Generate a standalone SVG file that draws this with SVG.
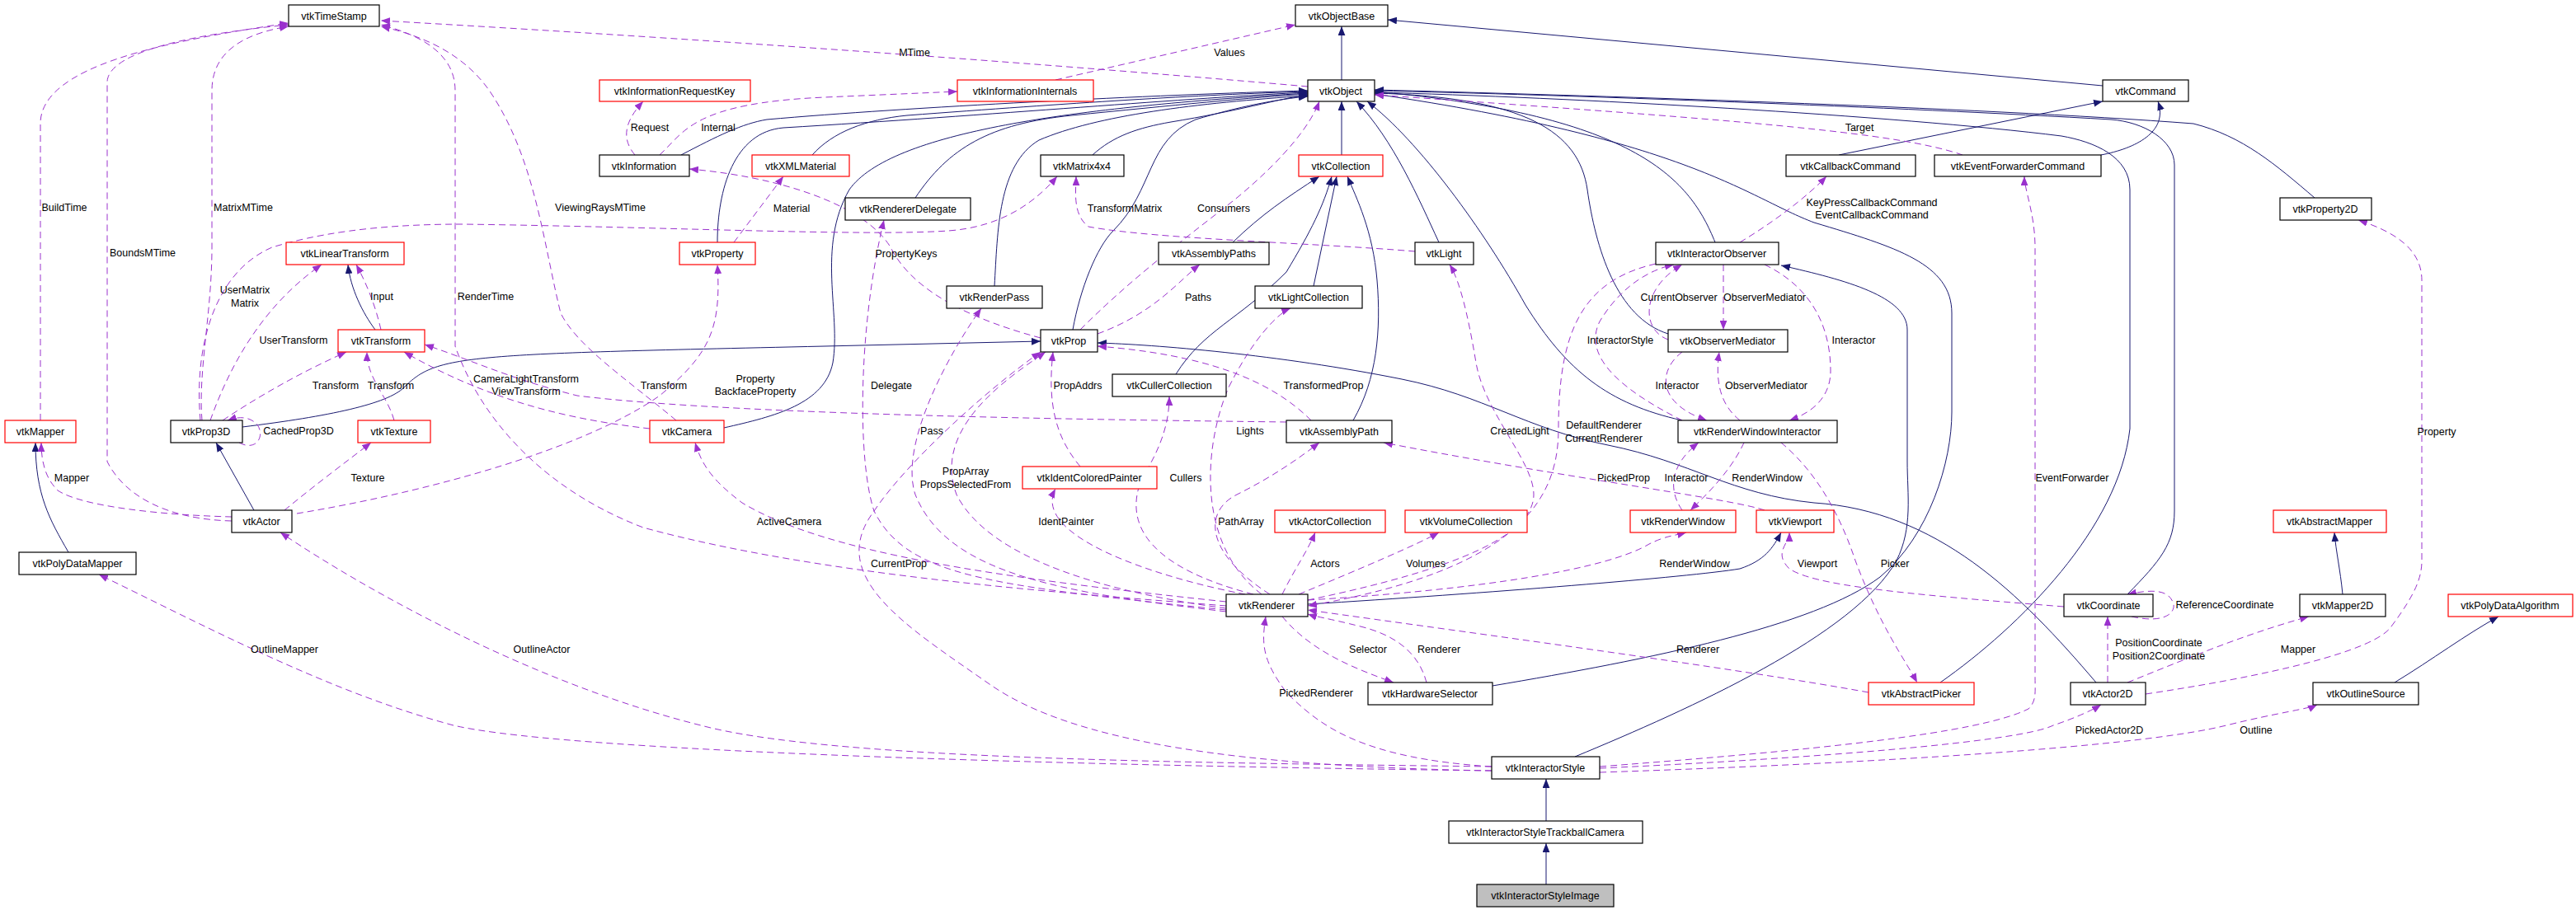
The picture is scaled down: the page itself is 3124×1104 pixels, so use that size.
<svg xmlns="http://www.w3.org/2000/svg" width="3124" height="1104" viewBox="0 0 3124 1104">
<style>
text{font-family:"Liberation Sans",Arial,sans-serif;font-size:12.5px;fill:#000}
.n rect{fill:#fff;stroke:#000;stroke-width:1.2}
.r rect{stroke:#f00}
.g rect{fill:#bfbfbf}
.n text{text-anchor:middle}
.i{fill:none;stroke:#191970;stroke-width:1;marker-end:url(#ai)}
.u{fill:none;stroke:#9a32cd;stroke-width:1;stroke-dasharray:8,5;marker-end:url(#au)}
.l{text-anchor:middle}
</style>
<defs>
<marker id="ai" viewBox="0 0 10 8" refX="10" refY="4" markerWidth="11" markerHeight="9" markerUnits="userSpaceOnUse" orient="auto"><path d="M0,0L10,4L0,8z" fill="#191970"/></marker>
<marker id="au" viewBox="0 0 10 8" refX="10" refY="4" markerWidth="11" markerHeight="9" markerUnits="userSpaceOnUse" orient="auto"><path d="M0,0L10,4L0,8z" fill="#9a32cd"/></marker>
</defs>
<rect width="3124" height="1104" fill="#fff"/>
<g id="edges">
<path class="i" d="M1627,97L1627,32"/>
<path class="i" d="M2550,104L1683,24"/>
<path class="i" d="M826,188C870,165 900,150 930,145C1100,130 1400,115 1586,110"/>
<path class="i" d="M985,188C1010,160 1050,145 1100,140C1300,125 1450,115 1586,111"/>
<path class="i" d="M870,294C870,230 890,160 950,155C1200,140 1450,118 1586,112"/>
<path class="i" d="M878,519C940,505 1000,490 1010,440C1020,380 990,300 1030,230C1080,160 1300,130 1586,113"/>
<path class="i" d="M1110,240C1150,180 1200,150 1300,140C1420,128 1520,118 1586,114"/>
<path class="i" d="M1325,188C1350,165 1380,155 1420,148C1500,135 1550,120 1586,115"/>
<path class="i" d="M1206,347C1210,280 1210,200 1260,170C1330,140 1450,125 1586,116"/>
<path class="i" d="M1301,400C1310,350 1330,300 1350,280C1400,230 1390,170 1450,145C1500,130 1550,120 1586,117"/>
<path class="i" d="M1627,188L1627,123"/>
<path class="i" d="M1745,294C1720,240 1690,170 1645,123"/>
<path class="i" d="M2040,510C1950,490 1900,450 1850,370C1800,280 1720,170 1658,123"/>
<path class="i" d="M2023,405C1960,385 1935,300 1925,230C1915,160 1850,118 1667,113"/>
<path class="i" d="M2080,294C2050,220 1990,140 1667,111"/>
<path class="i" d="M2230,188L2550,123"/>
<path class="i" d="M2548,188C2590,180 2630,160 2617,123"/>
<path class="i" d="M2807,240C2760,200 2720,165 2660,150C2400,130 1900,115 1667,109"/>
<path class="i" d="M2580,721C2620,680 2637,660 2637,620L2637,200C2637,170 2600,148 2560,145C2300,130 1900,115 1667,110"/>
<path class="i" d="M2353,828C2450,760 2570,640 2583,520L2583,230C2583,190 2540,172 2500,165C2300,140 1900,118 1667,112"/>
<path class="i" d="M1810,832C2000,800 2200,760 2280,700C2340,650 2367,560 2367,500L2367,380C2367,320 2300,300 2200,270C2120,240 2050,170 1667,114"/>
<path class="i" d="M1910,918C2050,860 2250,770 2300,680C2320,640 2313,600 2313,560L2313,400C2313,360 2240,340 2160,322"/>
<path class="i" d="M2542,828C2450,720 2350,620 2200,610C2100,600 2050,560 1950,540C1850,520 1800,480 1700,460C1550,430 1400,418 1331,416"/>
<path class="i" d="M1586,733C1800,720 2050,700 2110,690C2140,680 2150,665 2160,646"/>
<path class="i" d="M455,400C440,380 425,350 422,321"/>
<path class="i" d="M294,518C400,505 470,490 490,470C530,430 560,430 1000,420L1262,414"/>
<path class="i" d="M308,619L262,537"/>
<path class="i" d="M83,670C60,630 43,600 43,537"/>
<path class="i" d="M1495,294C1530,260 1560,240 1600,214"/>
<path class="i" d="M1593,347L1621,214"/>
<path class="i" d="M1426,454C1460,400 1500,390 1560,330C1590,280 1605,250 1615,214"/>
<path class="i" d="M1641,510C1670,460 1675,400 1670,340C1665,280 1645,240 1634,214"/>
<path class="i" d="M1875,996L1875,945"/>
<path class="i" d="M1875,1073L1875,1023"/>
<path class="i" d="M2841,721C2838,690 2833,670 2831,646"/>
<path class="i" d="M2904,828C2950,800 2990,770 3030,748"/>

<path class="u" d="M49,510L49,150C49,80 200,50 350,28"/>
<path class="u" d="M281,632C200,630 150,600 130,560L130,100C130,60 250,40 350,30"/>
<path class="u" d="M245,510C240,450 257,380 257,300L257,110C257,60 300,40 350,32"/>
<path class="u" d="M1487,735C1300,720 1000,700 780,640C650,590 580,500 552,420L552,110C552,60 500,40 462,30"/>
<path class="u" d="M820,510C760,460 700,420 680,380C660,300 650,200 600,120C570,70 520,45 462,32"/>
<path class="u" d="M1586,105C1300,80 900,50 462,25"/>
<path class="u" d="M1280,97L1571,30"/>
<path class="u" d="M770,188C755,170 755,150 780,123"/>
<path class="u" d="M800,188C830,160 840,125 1000,118L1161,111"/>
<path class="u" d="M890,294L950,214"/>
<path class="u" d="M1262,410C1150,380 1100,340 1080,300C1050,250 950,215 836,205"/>
<path class="u" d="M243,510C235,420 260,330 330,300C380,285 450,272 560,272C800,275 1050,287 1150,280C1220,275 1260,240 1282,214"/>
<path class="u" d="M255,510C280,440 320,370 390,321"/>
<path class="u" d="M462,400C455,370 445,345 432,321"/>
<path class="u" d="M270,510C330,470 380,445 420,427"/>
<path class="u" d="M478,510C470,480 445,460 445,427"/>
<path class="u" d="M788,520C700,510 600,490 490,427"/>
<path class="u" d="M1560,512C1400,510 900,505 700,480C620,460 580,440 515,418"/>
<path class="u" d="M345,619C380,590 420,560 450,537"/>
<path class="u" d="M281,627C200,625 100,615 70,595C55,580 50,560 50,537"/>
<path class="u" d="M360,623C500,600 700,550 800,480C860,430 875,400 870,321"/>
<path class="u" d="M290,537C310,548 322,530 312,515C302,505 290,505 276,510"/>
<path class="u" d="M1487,730C1200,700 1000,670 900,610C860,580 850,560 843,537"/>
<path class="u" d="M1809,935C1400,930 700,915 550,880C400,840 250,760 120,697"/>
<path class="u" d="M1809,930C1400,925 1000,920 850,880C650,830 450,720 340,646"/>
<path class="u" d="M1487,740C1200,710 1100,700 1060,620C1040,560 1040,400 1072,267"/>
<path class="u" d="M1487,742C1300,720 1150,700 1110,600C1090,540 1150,430 1190,374"/>
<path class="u" d="M1487,738C1350,720 1200,680 1160,600C1130,520 1220,460 1268,427"/>
<path class="u" d="M1310,566C1280,530 1270,490 1277,427"/>
<path class="u" d="M1510,721C1400,700 1250,650 1280,593"/>
<path class="u" d="M1520,721C1400,690 1360,640 1385,580C1410,540 1418,510 1418,481"/>
<path class="u" d="M1530,721C1450,660 1460,540 1490,470C1520,410 1550,380 1565,374"/>
<path class="u" d="M1540,721C1460,670 1460,620 1500,600C1540,580 1570,560 1600,537"/>
<path class="u" d="M1555,721C1570,690 1585,670 1595,646"/>
<path class="u" d="M1575,721C1650,690 1720,660 1745,646"/>
<path class="u" d="M1586,728C1720,700 1860,660 1860,600C1860,560 1800,500 1790,440C1780,380 1770,340 1758,321"/>
<path class="u" d="M1809,935C1500,930 1300,900 1200,830C1100,760 1000,700 1060,620C1100,560 1200,470 1262,427"/>
<path class="u" d="M1310,400C1380,330 1450,280 1500,240C1560,190 1590,150 1600,123"/>
<path class="u" d="M1716,305C1600,295 1400,290 1320,275C1300,260 1305,230 1305,214"/>
<path class="u" d="M1331,405C1400,380 1430,340 1455,321"/>
<path class="u" d="M1590,510C1540,460 1460,430 1331,420"/>
<path class="u" d="M2008,320C1920,340 1890,400 1890,520C1890,600 1850,690 1586,735"/>
<path class="u" d="M2040,510C1960,470 1920,430 1940,390C1970,340 2010,325 2030,321"/>
<path class="u" d="M2140,321C2200,350 2220,400 2220,450C2220,480 2200,500 2170,510"/>
<path class="u" d="M2110,294C2150,270 2190,240 2215,214"/>
<path class="u" d="M2090,321L2090,400"/>
<path class="u" d="M2023,412C1990,400 1990,350 2040,321"/>
<path class="u" d="M2040,427C2010,450 2010,490 2070,510"/>
<path class="u" d="M2110,510C2085,490 2080,460 2085,427"/>
<path class="u" d="M2115,537C2100,570 2070,600 2050,619"/>
<path class="u" d="M2040,619C2020,590 2030,560 2060,537"/>
<path class="u" d="M2140,619C2100,605 1900,580 1678,537"/>
<path class="u" d="M2160,537C2200,570 2230,620 2250,680C2280,760 2310,800 2325,828"/>
<path class="u" d="M1586,728C1800,715 1950,690 2000,660C2020,650 2030,650 2045,646"/>
<path class="u" d="M2503,736C2300,720 2200,710 2170,690C2150,670 2170,660 2170,646"/>
<path class="u" d="M2585,748C2630,758 2640,740 2635,730C2628,715 2610,715 2580,721"/>
<path class="u" d="M2556,828L2556,748"/>
<path class="u" d="M2580,828C2650,800 2720,770 2800,748"/>
<path class="u" d="M2602,842C2750,820 2880,790 2900,760C2930,720 2937,700 2937,680L2937,340C2937,300 2900,280 2860,267"/>
<path class="u" d="M2266,840C2100,810 1800,770 1586,740"/>
<path class="u" d="M1730,828C1720,790 1690,770 1650,760C1610,750 1595,748 1586,745"/>
<path class="u" d="M1555,748C1590,790 1640,810 1690,828"/>
<path class="u" d="M1809,930C1650,920 1600,880 1560,840C1530,800 1530,780 1535,748"/>
<path class="u" d="M1940,930C2200,910 2400,890 2460,860C2470,850 2468,840 2468,820L2468,300C2468,260 2455,230 2455,214"/>
<path class="u" d="M1940,932C2200,920 2450,900 2490,880C2520,870 2540,860 2548,855"/>
<path class="u" d="M1940,937C2300,925 2600,905 2700,880C2760,865 2800,860 2810,855"/>
<path class="u" d="M2380,188C2300,160 2100,145 1667,115"/>

<text x="78" y="256" class="l">BuildTime</text>
<text x="295" y="256" class="l">MatrixMTime</text>
<text x="728" y="256" class="l">ViewingRaysMTime</text>
<text x="173" y="311" class="l">BoundsMTime</text>
<text x="297" y="356" class="l">UserMatrix</text>
<text x="297" y="372" class="l">Matrix</text>
<text x="463" y="364" class="l">Input</text>
<text x="589" y="364" class="l">RenderTime</text>
<text x="356" y="417" class="l">UserTransform</text>
<text x="407" y="472" class="l">Transform</text>
<text x="474" y="472" class="l">Transform</text>
<text x="638" y="464" class="l">CameraLightTransform</text>
<text x="638" y="479" class="l">ViewTransform</text>
<text x="805" y="472" class="l">Transform</text>
<text x="916" y="464" class="l">Property</text>
<text x="916" y="479" class="l">BackfaceProperty</text>
<text x="362" y="527" class="l">CachedProp3D</text>
<text x="87" y="584" class="l">Mapper</text>
<text x="446" y="584" class="l">Texture</text>
<text x="957" y="637" class="l">ActiveCamera</text>
<text x="345" y="792" class="l">OutlineMapper</text>
<text x="657" y="792" class="l">OutlineActor</text>
<text x="788" y="159" class="l">Request</text>
<text x="871" y="159" class="l">Internal</text>
<text x="960" y="257" class="l">Material</text>
<text x="1109" y="68" class="l">MTime</text>
<text x="1491" y="68" class="l">Values</text>
<text x="1364" y="257" class="l">TransformMatrix</text>
<text x="1484" y="257" class="l">Consumers</text>
<text x="1099" y="312" class="l">PropertyKeys</text>
<text x="1453" y="365" class="l">Paths</text>
<text x="1081" y="472" class="l">Delegate</text>
<text x="1307" y="472" class="l">PropAddrs</text>
<text x="1605" y="472" class="l">TransformedProp</text>
<text x="1130" y="527" class="l">Pass</text>
<text x="1516" y="527" class="l">Lights</text>
<text x="1843" y="527" class="l">CreatedLight</text>
<text x="1945" y="520" class="l">DefaultRenderer</text>
<text x="1945" y="536" class="l">CurrentRenderer</text>
<text x="1171" y="576" class="l">PropArray</text>
<text x="1171" y="592" class="l">PropsSelectedFrom</text>
<text x="1438" y="584" class="l">Cullers</text>
<text x="1969" y="584" class="l">PickedProp</text>
<text x="2045" y="584" class="l">Interactor</text>
<text x="1293" y="637" class="l">IdentPainter</text>
<text x="1505" y="637" class="l">PathArray</text>
<text x="1090" y="688" class="l">CurrentProp</text>
<text x="1607" y="688" class="l">Actors</text>
<text x="1729" y="688" class="l">Volumes</text>
<text x="2055" y="688" class="l">RenderWindow</text>
<text x="1659" y="792" class="l">Selector</text>
<text x="1745" y="792" class="l">Renderer</text>
<text x="2059" y="792" class="l">Renderer</text>
<text x="1596" y="845" class="l">PickedRenderer</text>
<text x="1965" y="417" class="l">InteractorStyle</text>
<text x="2036" y="365" class="l">CurrentObserver</text>
<text x="2034" y="472" class="l">Interactor</text>
<text x="2255" y="159" class="l">Target</text>
<text x="2270" y="250" class="l">KeyPressCallbackCommand</text>
<text x="2270" y="265" class="l">EventCallbackCommand</text>
<text x="2140" y="365" class="l">ObserverMediator</text>
<text x="2248" y="417" class="l">Interactor</text>
<text x="2142" y="472" class="l">ObserverMediator</text>
<text x="2143" y="584" class="l">RenderWindow</text>
<text x="2955" y="528" class="l">Property</text>
<text x="2513" y="584" class="l">EventForwarder</text>
<text x="2204" y="688" class="l">Viewport</text>
<text x="2298" y="688" class="l">Picker</text>
<text x="2698" y="738" class="l">ReferenceCoordinate</text>
<text x="2618" y="784" class="l">PositionCoordinate</text>
<text x="2618" y="800" class="l">Position2Coordinate</text>
<text x="2787" y="792" class="l">Mapper</text>
<text x="2558" y="890" class="l">PickedActor2D</text>
<text x="2736" y="890" class="l">Outline</text>
</g>

<g id="vtkTimeStamp" class="n"><rect x="350" y="6" width="110" height="26"/><text x="405" y="24">vtkTimeStamp</text></g>
<g id="vtkObjectBase" class="n"><rect x="1571" y="6" width="112" height="26"/><text x="1627" y="24">vtkObjectBase</text></g>
<g id="vtkInformationRequestKey" class="n r"><rect x="727" y="97" width="183" height="26"/><text x="818" y="115">vtkInformationRequestKey</text></g>
<g id="vtkInformationInternals" class="n r"><rect x="1161" y="97" width="165" height="26"/><text x="1243" y="115">vtkInformationInternals</text></g>
<g id="vtkObject" class="n"><rect x="1586" y="97" width="81" height="26"/><text x="1626" y="115">vtkObject</text></g>
<g id="vtkCommand" class="n"><rect x="2550" y="97" width="104" height="26"/><text x="2602" y="115">vtkCommand</text></g>
<g id="vtkInformation" class="n"><rect x="727" y="188" width="109" height="26"/><text x="781" y="206">vtkInformation</text></g>
<g id="vtkXMLMaterial" class="n r"><rect x="912" y="188" width="118" height="26"/><text x="971" y="206">vtkXMLMaterial</text></g>
<g id="vtkMatrix4x4" class="n"><rect x="1262" y="188" width="101" height="26"/><text x="1312" y="206">vtkMatrix4x4</text></g>
<g id="vtkCollection" class="n r"><rect x="1575" y="188" width="102" height="26"/><text x="1626" y="206">vtkCollection</text></g>
<g id="vtkCallbackCommand" class="n"><rect x="2166" y="188" width="157" height="26"/><text x="2244" y="206">vtkCallbackCommand</text></g>
<g id="vtkEventForwarderCommand" class="n"><rect x="2346" y="188" width="202" height="26"/><text x="2447" y="206">vtkEventForwarderCommand</text></g>
<g id="vtkRendererDelegate" class="n"><rect x="1025" y="240" width="152" height="27"/><text x="1101" y="258">vtkRendererDelegate</text></g>
<g id="vtkProperty2D" class="n"><rect x="2765" y="240" width="111" height="27"/><text x="2820" y="258">vtkProperty2D</text></g>
<g id="vtkLinearTransform" class="n r"><rect x="347" y="294" width="143" height="27"/><text x="418" y="312">vtkLinearTransform</text></g>
<g id="vtkProperty" class="n r"><rect x="824" y="294" width="92" height="27"/><text x="870" y="312">vtkProperty</text></g>
<g id="vtkAssemblyPaths" class="n"><rect x="1405" y="294" width="134" height="27"/><text x="1472" y="312">vtkAssemblyPaths</text></g>
<g id="vtkLight" class="n"><rect x="1716" y="294" width="71" height="27"/><text x="1751" y="312">vtkLight</text></g>
<g id="vtkInteractorObserver" class="n"><rect x="2008" y="294" width="149" height="27"/><text x="2082" y="312">vtkInteractorObserver</text></g>
<g id="vtkRenderPass" class="n"><rect x="1148" y="347" width="116" height="27"/><text x="1206" y="365">vtkRenderPass</text></g>
<g id="vtkLightCollection" class="n"><rect x="1522" y="347" width="130" height="27"/><text x="1587" y="365">vtkLightCollection</text></g>
<g id="vtkTransform" class="n r"><rect x="410" y="400" width="105" height="27"/><text x="462" y="418">vtkTransform</text></g>
<g id="vtkProp" class="n"><rect x="1262" y="400" width="69" height="27"/><text x="1296" y="418">vtkProp</text></g>
<g id="vtkObserverMediator" class="n"><rect x="2023" y="400" width="145" height="27"/><text x="2095" y="418">vtkObserverMediator</text></g>
<g id="vtkCullerCollection" class="n"><rect x="1349" y="454" width="138" height="27"/><text x="1418" y="472">vtkCullerCollection</text></g>
<g id="vtkMapper" class="n r"><rect x="6" y="510" width="86" height="27"/><text x="49" y="528">vtkMapper</text></g>
<g id="vtkProp3D" class="n"><rect x="207" y="510" width="87" height="27"/><text x="250" y="528">vtkProp3D</text></g>
<g id="vtkTexture" class="n r"><rect x="434" y="510" width="88" height="27"/><text x="478" y="528">vtkTexture</text></g>
<g id="vtkCamera" class="n r"><rect x="788" y="510" width="90" height="27"/><text x="833" y="528">vtkCamera</text></g>
<g id="vtkAssemblyPath" class="n"><rect x="1560" y="510" width="128" height="27"/><text x="1624" y="528">vtkAssemblyPath</text></g>
<g id="vtkRenderWindowInteractor" class="n"><rect x="2035" y="510" width="193" height="27"/><text x="2131" y="528">vtkRenderWindowInteractor</text></g>
<g id="vtkIdentColoredPainter" class="n r"><rect x="1240" y="566" width="163" height="27"/><text x="1321" y="584">vtkIdentColoredPainter</text></g>
<g id="vtkActor" class="n"><rect x="281" y="619" width="73" height="27"/><text x="317" y="637">vtkActor</text></g>
<g id="vtkActorCollection" class="n r"><rect x="1546" y="619" width="134" height="27"/><text x="1613" y="637">vtkActorCollection</text></g>
<g id="vtkVolumeCollection" class="n r"><rect x="1704" y="619" width="148" height="27"/><text x="1778" y="637">vtkVolumeCollection</text></g>
<g id="vtkRenderWindow" class="n r"><rect x="1977" y="619" width="128" height="27"/><text x="2041" y="637">vtkRenderWindow</text></g>
<g id="vtkViewport" class="n r"><rect x="2130" y="619" width="94" height="27"/><text x="2177" y="637">vtkViewport</text></g>
<g id="vtkAbstractMapper" class="n r"><rect x="2757" y="619" width="137" height="27"/><text x="2825" y="637">vtkAbstractMapper</text></g>
<g id="vtkPolyDataMapper" class="n"><rect x="23" y="670" width="142" height="27"/><text x="94" y="688">vtkPolyDataMapper</text></g>
<g id="vtkRenderer" class="n"><rect x="1487" y="721" width="99" height="27"/><text x="1536" y="739">vtkRenderer</text></g>
<g id="vtkCoordinate" class="n"><rect x="2503" y="721" width="108" height="27"/><text x="2557" y="739">vtkCoordinate</text></g>
<g id="vtkMapper2D" class="n"><rect x="2789" y="721" width="104" height="27"/><text x="2841" y="739">vtkMapper2D</text></g>
<g id="vtkPolyDataAlgorithm" class="n r"><rect x="2969" y="721" width="151" height="27"/><text x="3044" y="739">vtkPolyDataAlgorithm</text></g>
<g id="vtkHardwareSelector" class="n"><rect x="1659" y="828" width="151" height="27"/><text x="1734" y="846">vtkHardwareSelector</text></g>
<g id="vtkAbstractPicker" class="n r"><rect x="2266" y="828" width="128" height="27"/><text x="2330" y="846">vtkAbstractPicker</text></g>
<g id="vtkActor2D" class="n"><rect x="2511" y="828" width="91" height="27"/><text x="2556" y="846">vtkActor2D</text></g>
<g id="vtkOutlineSource" class="n"><rect x="2805" y="828" width="128" height="27"/><text x="2869" y="846">vtkOutlineSource</text></g>
<g id="vtkInteractorStyle" class="n"><rect x="1809" y="918" width="131" height="27"/><text x="1874" y="936">vtkInteractorStyle</text></g>
<g id="vtkInteractorStyleTrackballCamera" class="n"><rect x="1757" y="996" width="235" height="27"/><text x="1874" y="1014">vtkInteractorStyleTrackballCamera</text></g>
<g id="vtkInteractorStyleImage" class="n g"><rect x="1791" y="1073" width="166" height="27"/><text x="1874" y="1091">vtkInteractorStyleImage</text></g>
</svg>
